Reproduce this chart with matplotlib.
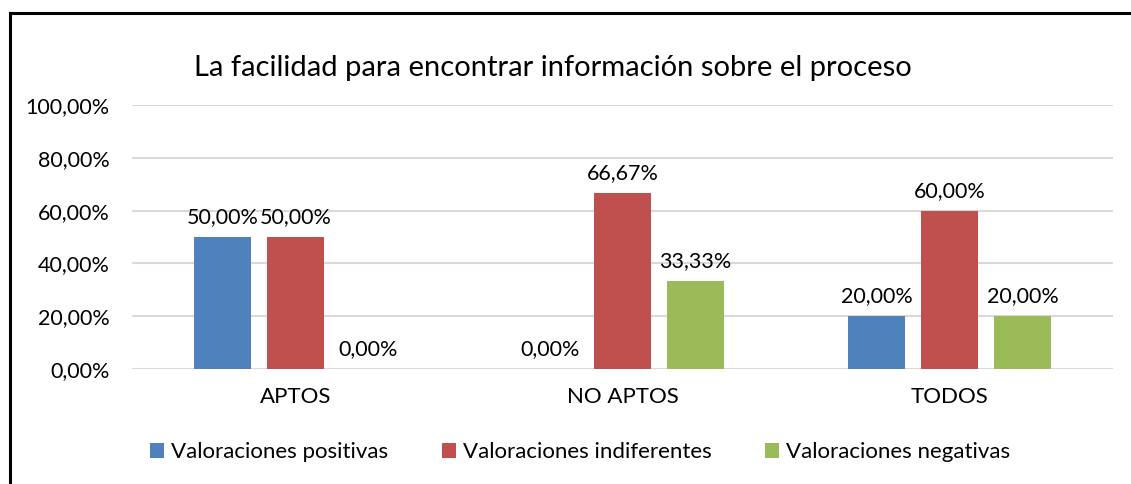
import numpy as np
import matplotlib.pyplot as plt
from matplotlib.lines import Line2D

categorias = ["APTOS", "NO APTOS", "TODOS"]
series = ["Valoraciones positivas", "Valoraciones indiferentes", "Valoraciones negativas"]
positivas = [50.0, 0.0, 20.0]
indiferentes = [50.0, 66.67, 60.0]
negativas = [0.0, 33.33, 20.0]
colores = ["#4F81BD", "#C0504D", "#9BBB59"]
yticks = [0, 20, 40, 60, 80, 100]

plt.rcParams['font.family'] = ['Lato', 'DejaVu Sans']

def fmt(v):
    return ("%.2f%%" % v).replace(".", ",")

W, H = 1131, 484
fig = plt.figure(figsize=(W / 100, H / 100), dpi=100)
ax = fig.add_axes([132 / W, 1 - 369 / H, 981 / W, 264 / H])

x = np.arange(len(categorias))
ancho = 0.174
paso = 0.223
for i, (vals, nombre) in enumerate(zip([positivas, indiferentes, negativas], series)):
    barras = ax.bar(x + (i - 1) * paso, vals, ancho, color=colores[i], label=nombre, zorder=3)
    ax.bar_label(barras, labels=[fmt(v) for v in vals], padding=7, fontsize=15.5, color="#000000")

ax.set_xlim(-0.5, 2.5)
ax.set_ylim(0, 100)
ax.set_yticks(yticks)
ax.set_yticklabels([fmt(v) for v in yticks], fontsize=15.5)
ax.set_xticks(x)
ax.set_xticklabels(categorias, fontsize=16)
ax.tick_params(axis="y", length=0, pad=16)
ax.tick_params(axis="x", length=0, pad=13)
ax.grid(axis="y", color="#D9D9D9", linewidth=1.5, zorder=0)
for s in ax.spines.values():
    s.set_visible(False)

fig.text(553 / W, 1 - 68 / H, "La facilidad para encontrar información sobre el proceso",
         ha="center", va="center", fontsize=21)

fig.legend(loc="center", bbox_to_anchor=(580 / W, 1 - 452 / H), ncol=3, frameon=False,
           fontsize=16, handlelength=0.65, handleheight=0.65, handletextpad=0.3,
           columnspacing=2.4)

# marco
fig.add_artist(Line2D([9.5 / W, 9.5 / W], [0, 1 - 13 / H], color="black", linewidth=2.2,
                      transform=fig.transFigure))
fig.add_artist(Line2D([9.5 / W, 1], [1 - 13 / H, 1 - 13 / H], color="black", linewidth=2.2,
                      transform=fig.transFigure))

fig.savefig("out.png", dpi=100)
